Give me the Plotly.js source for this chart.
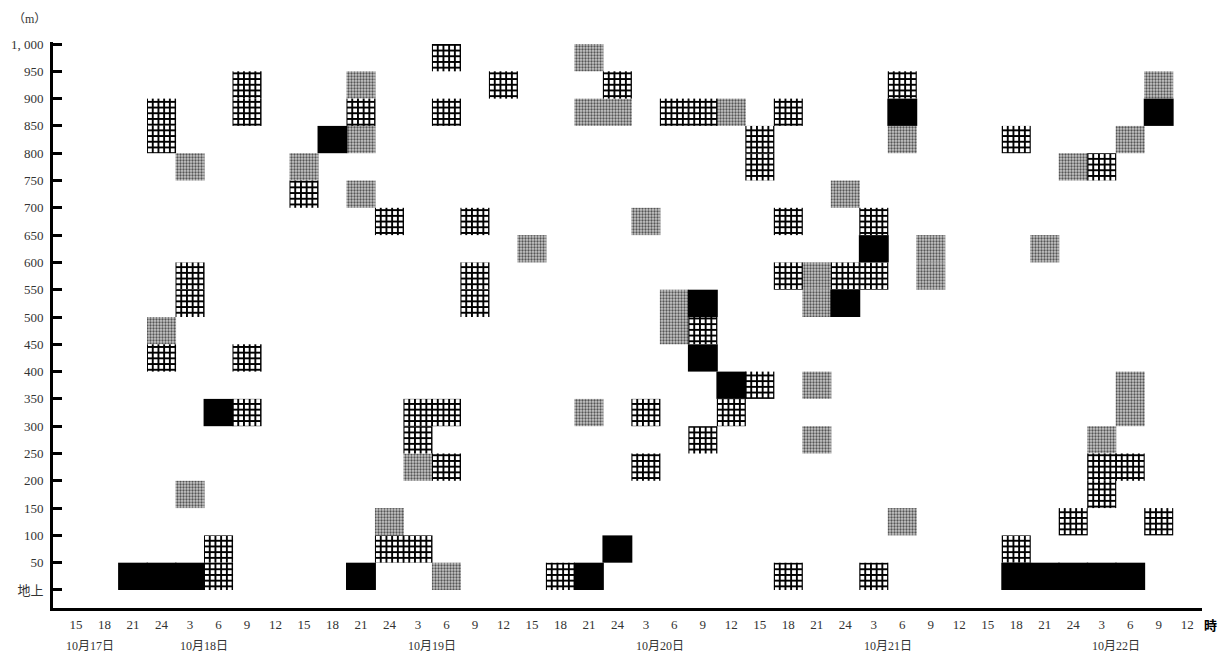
<!DOCTYPE html>
<html>
<head>
<meta charset="utf-8">
<script src="https://cdn.plot.ly/plotly-3.0.1.min.js"></script>
<style>
html,body{margin:0;padding:0;background:#fff;}
#chart{width:1226px;height:657px;}
</style>
</head>
<body>
<div id="chart"></div>
<script>
// 3-hour time slots (index 0 = 10/17 15時 ... 39 = 10/22 12時)
const timeLabels = ["15","18","21","24",
  "3","6","9","12","15","18","21","24",
  "3","6","9","12","15","18","21","24",
  "3","6","9","12","15","18","21","24",
  "3","6","9","12","15","18","21","24",
  "3","6","9","12"];
const dateLabels = ["10月17日","10月18日","10月19日","10月20日","10月21日","10月22日"];
const datePos = [0.5, 4.5, 12.5, 20.5, 28.5, 36.5];

const heightTicks = [0,50,100,150,200,250,300,350,400,450,500,550,600,650,700,750,800,850,900,950,1000];
const heightLabels = ["地上","50","100","150","200","250","300","350","400","450","500","550","600","650","700","750","800","850","900","950","1, 000"];
const layerThickness = 50;

// black cells: time slot index and lower height (m)
const blackSlot = [2,3,4,5,9,10,18,19,22,22,23,27,28,29,33,34,35,36,37,38];
const blackBase = [0,0,0,300,800,0,0,50,500,400,350,500,600,850,0,0,0,0,0,850];

// cross-hatched (grid) cells
const gridSlot = [3,3,3,4,4,5,5,6,6,6,6,8,10,11,11,12,12,12,13,13,13,13,14,14,14,15,17,19,20,20,21,22,22,22,23,24,24,24,25,25,25,25,27,28,28,28,29,33,33,35,36,36,36,37,38];
const gridBase = [400,800,850,500,550,0,50,300,400,850,900,700,850,650,50,50,300,250,300,200,950,850,650,500,550,900,0,900,300,200,850,850,450,250,300,350,750,800,850,650,550,0,550,550,650,0,900,800,50,100,150,200,750,200,100];

// dotted (grey) cells
const dotSlot = [3,4,4,8,10,10,10,11,12,13,16,18,18,18,19,20,21,21,23,26,26,26,26,27,29,29,30,30,34,35,36,37,37,37,38];
const dotBase = [450,150,750,750,900,800,700,100,200,0,600,950,850,300,850,650,500,450,850,500,550,350,250,700,800,100,550,600,600,750,250,300,350,800,900];

const serif = "'Liberation Serif', 'DejaVu Serif', 'Noto Sans CJK JP', serif";

function cells(slots, bases, marker, w) {
  return {
    type: 'bar',
    x: slots,
    y: slots.map(() => layerThickness),
    base: bases,
    width: w,
    marker: marker,
    hoverinfo: 'skip',
    showlegend: false
  };
}

const traces = [
  cells(dotSlot, dotBase, {
    color: '#c4c4c4',
    line: {width: 0},
    pattern: {shape: '.', fgcolor: '#555555', bgcolor: '#c8c8c8', size: 3, solidity: 0.45}
  }, 1.02),
  cells(gridSlot, gridBase, {
    color: '#ffffff',
    line: {width: 0},
    pattern: {shape: '+', fgcolor: '#000000', bgcolor: '#ffffff', size: 5.7, solidity: 0.55}
  }, 1.02),
  cells(blackSlot, blackBase, {
    color: '#000000',
    line: {width: 0}
  }, 1.05)
];

const annotations = datePos.map((p, i) => ({
  x: p, xref: 'x', y: -0.067, yref: 'paper',
  text: dateLabels[i], showarrow: false,
  xanchor: 'center', yanchor: 'middle',
  font: {family: serif, size: 12, color: '#333'}
}));
annotations.push({
  x: -0.0205, xref: 'paper', y: 1.04, yref: 'paper',
  text: '（m）', showarrow: false, xanchor: 'center', yanchor: 'middle',
  font: {family: serif, size: 12, color: '#333'}
});
annotations.push({
  x: 1.0078, xref: 'paper', y: -0.030, yref: 'paper',
  text: '<b>時</b>', showarrow: false, xanchor: 'center', yanchor: 'middle',
  font: {family: "'Noto Sans CJK JP', sans-serif", size: 13, color: '#000'}
});

const layout = {
  width: 1226, height: 657,
  margin: {l: 53, r: 24, t: 42, b: 49},
  paper_bgcolor: '#ffffff', plot_bgcolor: '#ffffff',
  barmode: 'overlay',
  showlegend: false,
  xaxis: {
    range: [-0.81, 39.52],
    tickmode: 'array',
    tickvals: timeLabels.map((_, i) => i),
    ticktext: timeLabels,
    ticks: '',
    showgrid: false, zeroline: false,
    showline: true, linewidth: 3, linecolor: '#000',
    ticklabelstandoff: 2,
    tickfont: {family: serif, size: 13, color: '#333'}
  },
  yaxis: {
    range: [-33, 1003.7],
    tickmode: 'array',
    tickvals: heightTicks,
    ticktext: heightLabels,
    ticks: 'inside', ticklen: 9, tickwidth: 3, tickcolor: '#000',
    showgrid: false, zeroline: false,
    showline: true, linewidth: 3, linecolor: '#000',
    ticklabelstandoff: 4,
    tickfont: {family: serif, size: 13, color: '#333'}
  },
  annotations: annotations
};

Plotly.newPlot('chart', traces, layout, {displayModeBar: false, staticPlot: true});
</script>
</body>
</html>
